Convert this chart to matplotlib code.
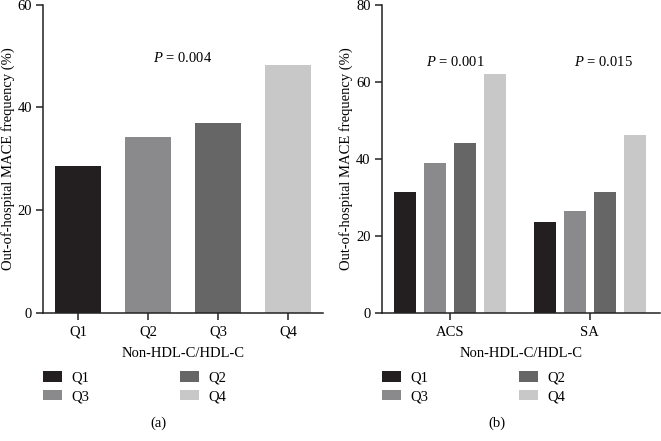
import numpy as np
import matplotlib
matplotlib.use("Agg")
import matplotlib.pyplot as plt
from matplotlib.patches import Patch

plt.rcParams["font.family"] = ["Liberation Serif", "DejaVu Serif"]
plt.rcParams["font.size"] = 10.5
plt.rcParams["mathtext.fontset"] = "custom"
plt.rcParams["mathtext.it"] = "Liberation Serif:italic"
plt.rcParams["mathtext.rm"] = "Liberation Serif"

# ---- data ----
quartiles = ["Q1", "Q2", "Q3", "Q4"]
freq_all = [28.5, 34.3, 36.9, 48.3]           # panel (a)
groups = ["ACS", "SA"]
freq_acs = [31.3, 38.8, 44.1, 61.9]           # panel (b)
freq_sa = [23.5, 26.5, 31.3, 46.1]
p_all = "0.004"
p_groups = ["0.001", "0.015"]

colors = ["#231f20", "#8a898c", "#666666", "#c8c8c8"]
legend_labels = ["Q1", "Q3", "Q2", "Q4"]      # as printed in the original legend
legend_colors = [colors[0], colors[1], colors[2], colors[3]]

W, H = 661, 441
FS = 10.5
TOP, BOT = 4.5, 312.7                         # axes top / bottom in pixels
fig = plt.figure(figsize=(W / 100, H / 100), dpi=100)


def style(ax):
    for s in ("top", "right"):
        ax.spines[s].set_visible(False)
    for s in ("left", "bottom"):
        ax.spines[s].set_linewidth(1.1)
        ax.spines[s].set_color("#222222")
    ax.tick_params(direction="out", length=5, width=1.1, color="#222222",
                   labelsize=FS, pad=3)
    ax.tick_params(axis="x", pad=4.5)


def legend(ax):
    handles = [Patch(facecolor=c, edgecolor="none") for c in legend_colors]
    ax.legend(handles, legend_labels, ncol=2, loc="upper left",
              bbox_to_anchor=(0.0, -0.19), frameon=False, borderpad=0,
              borderaxespad=0, handlelength=1.32, handleheight=0.75,
              handletextpad=0.64, columnspacing=6.2, labelspacing=0.35,
              fontsize=FS)


# ---- panel (a) ----
ax1 = fig.add_axes([43 / W, 1 - BOT / H, 280 / W, (BOT - TOP) / H])
x = np.arange(len(quartiles))
ax1.bar(x, freq_all, width=0.67, color=colors)
ax1.set_xlim(-0.5, 3.5)
ax1.set_ylim(0, 60)
ax1.set_yticks([0, 20, 40, 60])
ax1.set_xticks(x, quartiles)
ax1.set_xlabel("Non-HDL-C/HDL-C", labelpad=6)
ax1.set_ylabel("Out-of-hospital MACE frequency (%)", labelpad=2)
ax1.text(1.5, 49.5, r"$P$ = " + p_all, ha="center", va="center", fontsize=FS)
style(ax1)
legend(ax1)
fig.text(158 / W, 1 - 423 / H, "(a)", ha="center", va="center", fontsize=FS)

# ---- panel (b) ----
ax2 = fig.add_axes([381.7 / W, 1 - BOT / H, 278 / W, (BOT - TOP) / H])
gx = np.arange(len(groups))
step, bw = 0.214, 0.16
for i in range(4):
    ax2.bar(gx + (i - 1.5) * step, [freq_acs[i], freq_sa[i]], width=bw, color=colors[i])
ax2.set_xlim(-0.49, 1.5)
ax2.set_ylim(0, 80)
ax2.set_yticks([0, 20, 40, 60, 80])
ax2.set_xticks(gx, groups)
ax2.set_xlabel("Non-HDL-C/HDL-C", labelpad=6)
ax2.set_ylabel("Out-of-hospital MACE frequency (%)", labelpad=2)
ax2.text(0.036, 65, r"$P$ = " + p_groups[0], ha="center", va="center", fontsize=FS)
ax2.text(1.095, 65, r"$P$ = " + p_groups[1], ha="center", va="center", fontsize=FS)
style(ax2)
legend(ax2)
fig.text(496.7 / W, 1 - 423 / H, "(b)", ha="center", va="center", fontsize=FS)

fig.savefig("out.png", dpi=100)
